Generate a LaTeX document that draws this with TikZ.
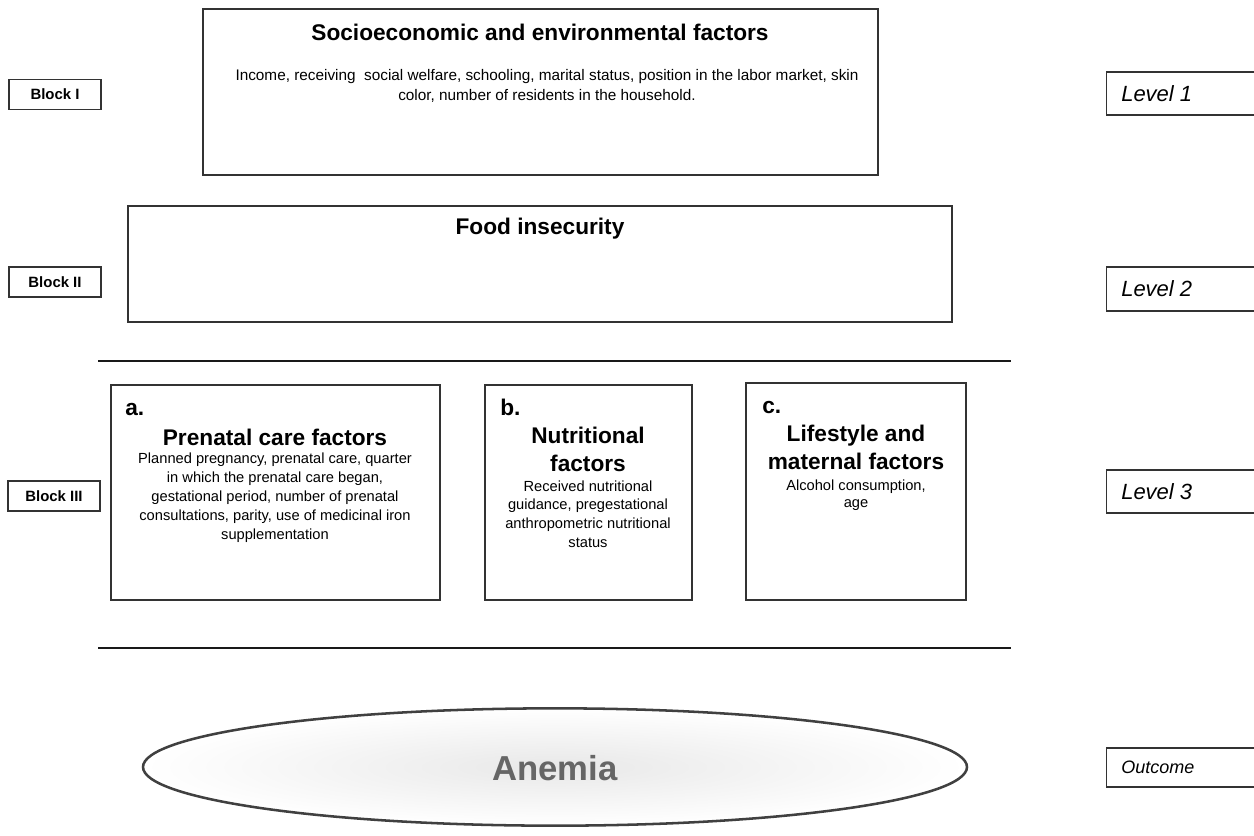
\documentclass[tikz,border=0pt]{standalone}
\usepackage{fontspec}
\setmainfont{Liberation Sans}
\usetikzlibrary{shapes.geometric}
\definecolor{edge}{HTML}{333333}
\definecolor{ellipseedge}{HTML}{404040}
\definecolor{anemiatext}{HTML}{666666}
\tikzset{
  box/.style={draw=edge, line width=1pt, rectangle, inner sep=0pt},
  tagbox/.style={box, minimum width=69pt, minimum height=22.5pt, font=\fontsize{11.2}{13}\selectfont\bfseries},
  levelbox/.style={box, minimum width=123pt, anchor=west},
  leveltext/.style={anchor=west, inner sep=0pt, font=\fontsize{16.5}{19}\selectfont\itshape},
  headtext/.style={inner sep=0pt, align=center, font=\fontsize{17}{21}\selectfont\bfseries},
  bodytext/.style={inner sep=0pt, align=center, font=\fontsize{11}{14.25}\selectfont},
  sepline/.style={draw=black!90, line width=1.5pt},
}
\begin{document}
\begin{tikzpicture}[x=0.75pt,y=-0.75pt]
\useasboundingbox (0,0) rectangle (1254,836);
\clip (0,0) rectangle (1254,836);

% Block labels
\node[tagbox] (b1) at (55,94.5) {Block I};
\node[tagbox] (b2) at (55,282) {Block II};
\node[tagbox] (b3) at (54,496) {Block III};

% Level labels
\node[levelbox, minimum height=32.25pt] (l1) at (1106,93.5) {};
\node[levelbox, minimum height=33pt] (l2) at (1106,289) {};
\node[levelbox, minimum height=32.25pt] (l3) at (1106,491.5) {};
\node[levelbox, minimum height=29.25pt] (l4) at (1106,767.5) {};
\node[leveltext] (t1) at (1121,93.5) {Level 1};
\node[leveltext] (t2) at (1121,289) {Level 2};
\node[leveltext] (t3) at (1121,491.5) {Level 3};
\node[leveltext, font=\fontsize{13.5}{16}\selectfont\itshape] (t4) at (1121,767.5) {Outcome};

% Block I box
\node[box, minimum width=506.25pt, minimum height=124.5pt] (socio) at (540.5,92) {};
\node[headtext] (sociot) at (540,32) {Socioeconomic and environmental factors};
\node[bodytext, font=\fontsize{11.5}{15}\selectfont] (sociob) at (547,86)
  {Income, receiving\ \ social welfare, schooling, marital status, position in the labor market, skin\\
   color, number of residents in the household.};

% Block II box
\node[box, minimum width=618pt, minimum height=87pt] (food) at (540,264) {};
\node[headtext] (foodt) at (540,229) {Food insecurity};

% Separator lines
\coordinate (s1l) at (98,361);
\coordinate (s1r) at (1011,361);
\coordinate (s2l) at (98,648);
\coordinate (s2r) at (1011,648);
\draw[sepline] (s1l) -- (s1r);
\draw[sepline] (s2l) -- (s2r);

% Block III boxes
\node[box, minimum width=246.75pt, minimum height=161.25pt] (pa) at (275.5,492.5) {};
\node[box, minimum width=155.25pt, minimum height=161.25pt] (pb) at (588.5,492.5) {};
\node[box, minimum width=165pt, minimum height=162.75pt] (pc) at (856,491.5) {};

\node[headtext, anchor=base west] (pal) at (125,415) {a.};
\node[headtext] (pat) at (275,437) {Prenatal care factors};
\node[bodytext] (pab) at (275,497.5)
  {Planned pregnancy, prenatal care, quarter\\
   in which the prenatal care began,\\
   gestational period, number of prenatal\\
   consultations, parity, use of medicinal iron\\
   supplementation};

\node[headtext, anchor=base west] (pbl) at (500,415) {b.};
\node[headtext] (pbt) at (588,449) {Nutritional\\factors};
\node[bodytext, font=\fontsize{11}{14}\selectfont] (pbb) at (588,514)
  {Received nutritional\\
   guidance, pregestational\\
   anthropometric nutritional\\
   status};

\node[headtext, anchor=base west] (pcl) at (762,413) {c.};
\node[headtext] (pct) at (856,447.5) {Lifestyle and\\maternal factors};
\node[bodytext, font=\fontsize{11}{12.5}\selectfont] (pcb) at (856,495.5)
  {Alcohol consumption,\\age};

% Outcome ellipse
\node[ellipse, draw=ellipseedge, line width=1.9pt, minimum width=618pt, minimum height=88pt,
      inner color=black!9, outer color=white] (anemia) at (555,767) {};
\node[inner sep=0pt, text=anemiatext, font=\fontsize{26}{30}\selectfont\bfseries] (anemiat) at (555,768) {Anemia};
\end{tikzpicture}
\end{document}
